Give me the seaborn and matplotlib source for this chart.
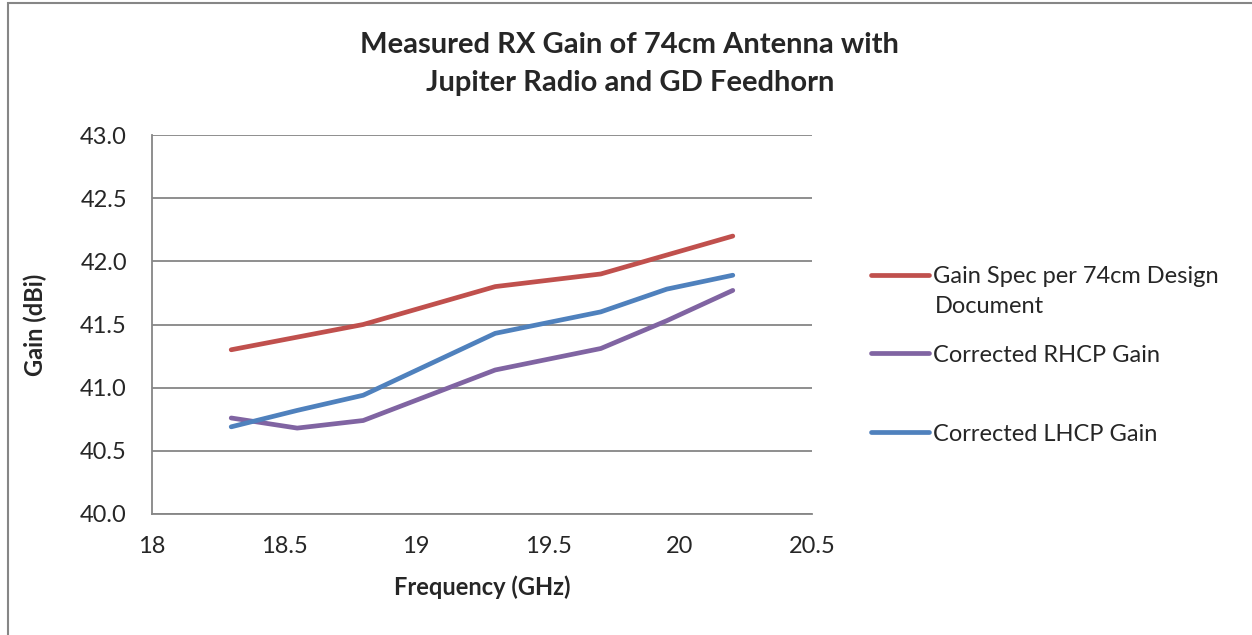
import numpy as np
import pandas as pd
import seaborn as sns
import matplotlib.pyplot as plt
from matplotlib.patches import Rectangle

# data
freq = [18.3, 18.55, 18.8, 19.3, 19.7, 19.95, 20.2]
gain_spec = [41.30, 41.40, 41.50, 41.80, 41.90, 42.05, 42.20]
gain_rhcp = [40.76, 40.68, 40.74, 41.14, 41.31, 41.53, 41.77]
gain_lhcp = [40.69, 40.82, 40.94, 41.43, 41.60, 41.78, 41.89]
series_names = ['Gain Spec per 74cm Design',
                'Corrected RHCP Gain',
                'Corrected LHCP Gain']
colors = ['#C0504D', '#8064A2', '#4F81BD']
x_ticks = [18, 18.5, 19, 19.5, 20, 20.5]
x_labels = ['18', '18.5', '19', '19.5', '20', '20.5']
y_ticks = [40.0, 40.5, 41.0, 41.5, 42.0, 42.5, 43.0]

df = pd.DataFrame({
    'freq': freq * 3,
    'gain': gain_spec + gain_rhcp + gain_lhcp,
    'series': [series_names[0]] * len(freq) + [series_names[1]] * len(freq) + [series_names[2]] * len(freq),
})

sns.set_style('white')
plt.rcParams['font.family'] = ['Lato', 'DejaVu Sans']

fig = plt.figure(figsize=(12.52, 6.35), dpi=100)
ax = fig.add_axes([152 / 1252, 1 - 514 / 635, 660 / 1252, 379 / 635])

sns.lineplot(data=df, x='freq', y='gain', hue='series', hue_order=series_names,
             palette=colors, linewidth=3.4, ax=ax, sort=False,
             solid_capstyle='round')

ax.set_xlim(18, 20.5)
ax.set_ylim(40.0, 43.0)
ax.set_xticks(x_ticks)
ax.set_xticklabels(x_labels)
ax.set_yticks(y_ticks)
ax.set_yticklabels(['%.1f' % v for v in y_ticks])
ax.tick_params(axis='both', direction='out', length=5, width=1.2, color='#868686',
               labelsize=17)
ax.tick_params(axis='y', pad=13)
ax.tick_params(axis='x', pad=11)
ax.yaxis.grid(True, color='#868686', linewidth=1.3)
ax.xaxis.grid(False)
for s in ['top', 'right']:
    ax.spines[s].set_visible(False)
for s in ['left', 'bottom']:
    ax.spines[s].set_color('#868686')
    ax.spines[s].set_linewidth(1.3)
ax.set_axisbelow(True)

ax.set_xlabel('Frequency (GHz)', fontsize=17, fontweight='bold', labelpad=13)
ax.set_ylabel('Gain (dBi)', fontsize=17, fontweight='bold', labelpad=24)

fig.text(0.503, 1 - 64 / 635, 'Measured RX Gain of 74cm Antenna with\nJupiter Radio and GD Feedhorn',
         ha='center', va='center', fontsize=21, fontweight='bold', linespacing=1.55)

leg = ax.legend(loc='center left', bbox_to_anchor=(1.057, 0.419), frameon=False,
                fontsize=17, handlelength=2.45, handletextpad=0.2, labelspacing=2.45)
for line in leg.get_lines():
    line.set_linewidth(3.4)
    line.set_solid_capstyle('round')
# second line of the first legend label
fig.text(935 / 1252, 1 - 306 / 635, 'Document', ha='left', va='center', fontsize=17)

# outer chart border
fig.patches.append(Rectangle((8 / 1252, -0.1), 1.1, 1.1 - 3 / 635, transform=fig.transFigure,
                             fill=False, edgecolor='#868686', linewidth=1.5))

fig.savefig('out.png', dpi=100)
